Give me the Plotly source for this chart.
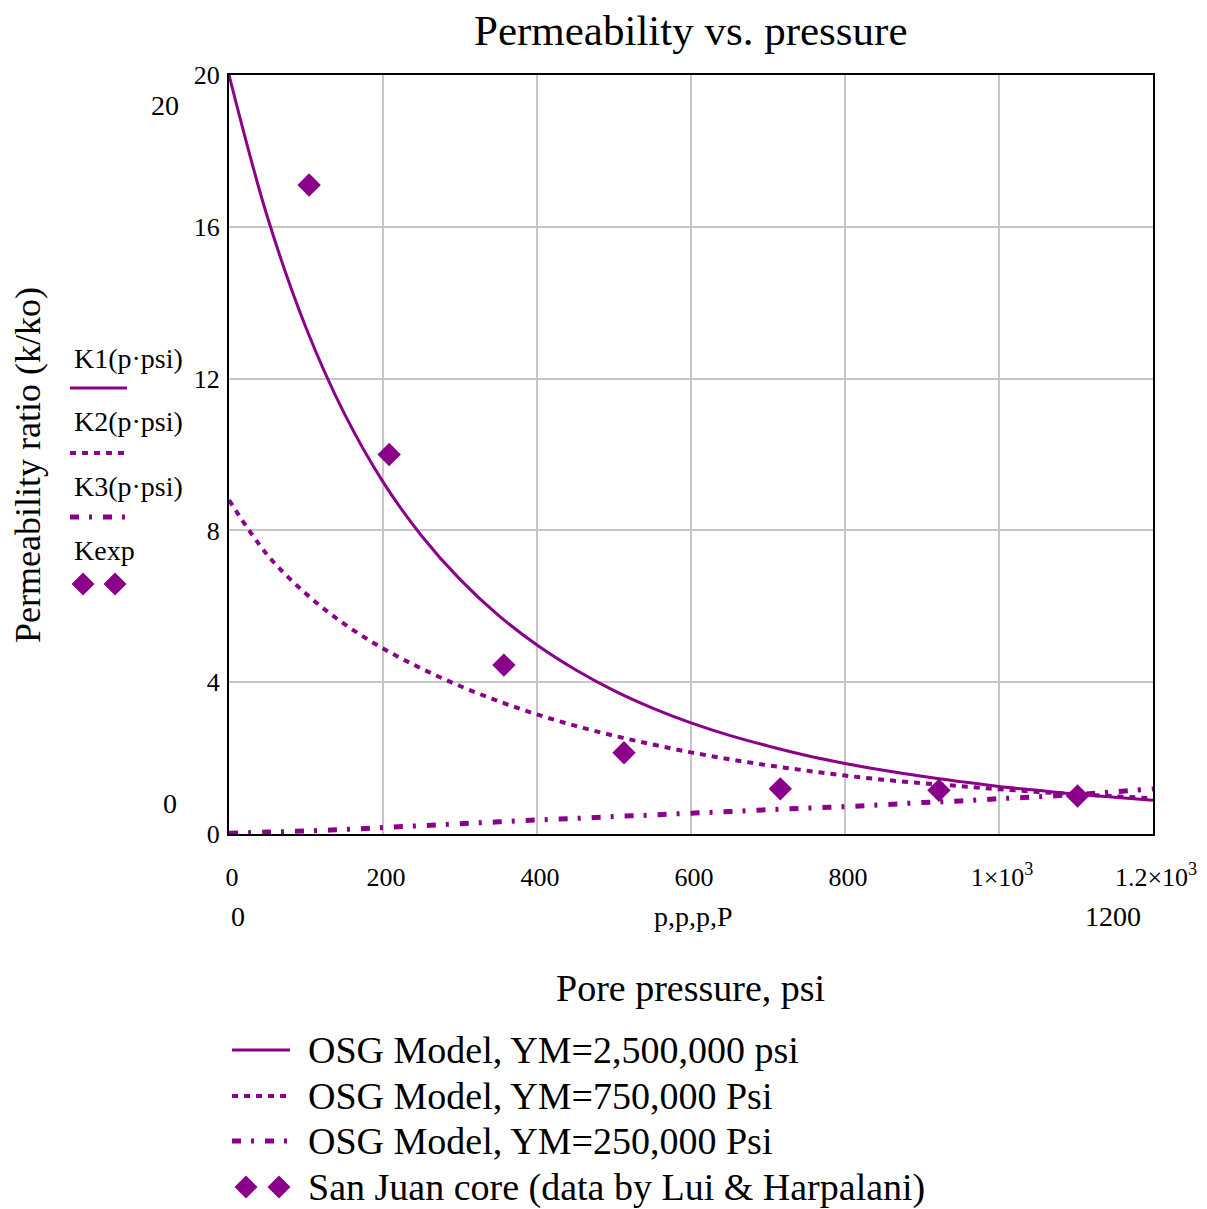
import plotly.graph_objects as go

# ---------------- data ----------------
p_model = [0, 50, 100, 150, 200, 250, 300, 350, 400, 450, 500, 550, 600,
           650, 700, 750, 800, 850, 900, 950, 1000, 1050, 1100, 1150, 1200]
k1 = [20.0, 16.25, 13.34, 11.07, 9.28, 7.86, 6.71, 5.76, 4.98, 4.33, 3.78, 3.32, 2.93,
      2.60, 2.32, 2.07, 1.86, 1.68, 1.52, 1.38, 1.25, 1.15, 1.05, 0.97, 0.89]
k2 = [8.80, 7.35, 6.33, 5.53, 4.89, 4.36, 3.90, 3.50, 3.15, 2.85, 2.59, 2.36, 2.15,
      1.97, 1.81, 1.67, 1.54, 1.43, 1.34, 1.26, 1.18, 1.11, 1.05, 0.995, 0.94]
k3 = [0.02, 0.05, 0.08, 0.12, 0.17, 0.22, 0.27, 0.32, 0.37, 0.41, 0.46, 0.50, 0.55,
      0.59, 0.64, 0.68, 0.72, 0.77, 0.83, 0.87, 0.93, 0.98, 1.04, 1.11, 1.19]
p_exp = [104, 208, 357, 513, 716, 922, 1102]
k_exp = [17.1, 10.0, 4.45, 2.14, 1.19, 1.15, 1.0]

x_tickvals = [0, 200, 400, 600, 800, 1000, 1200]
x_ticktext = ["0", "200", "400", "600", "800", "1×10<sup>3</sup>", "1.2×10<sup>3</sup>"]
y_tickvals = [0, 4, 8, 12, 16, 20]

title_text = "Permeability vs. pressure"
x_title = "Pore pressure, psi"
y_title = "Permeability ratio (k/ko)"
trace_labels = ["K1(p·psi)", "K2(p·psi)", "K3(p·psi)", "Kexp"]
legend_labels = ["OSG Model, YM=2,500,000 psi", "OSG Model, YM=750,000 Psi",
                 "OSG Model, YM=250,000 Psi", "San Juan core (data by Lui & Harpalani)"]

# ---------------- styling ----------------
PURPLE = "#8b008b"
SERIF = "Liberation Serif, Times New Roman, serif"
VIEW_W, VIEW_H = 1207, 1209
OFF = 8                      # default page-body margin
L, R, T, B = 229, 1153, 75, 834   # plot area in window pixels

DASH_DOT = "6px,6px"
DASH_DASHDOT = "9px,10px,3px,11px"


def px(x):
    return (x - L) / (R - L)


def py(y):
    return (B - y) / (B - T)


fig = go.Figure()
fig.add_trace(go.Scatter(x=p_model, y=k1, mode="lines", line_shape="spline",
                         line=dict(color=PURPLE, width=3), showlegend=False))
fig.add_trace(go.Scatter(x=p_model, y=k2, mode="lines", line_shape="spline",
                         line=dict(color=PURPLE, width=4, dash=DASH_DOT), showlegend=False))
fig.add_trace(go.Scatter(x=p_model, y=k3, mode="lines", line_shape="spline",
                         line=dict(color=PURPLE, width=5, dash=DASH_DASHDOT), showlegend=False))
fig.add_trace(go.Scatter(x=p_exp, y=k_exp, mode="markers",
                         marker=dict(symbol="diamond", size=18, color=PURPLE), showlegend=False))

annotations = []


def txt(x, y, s, size, xanchor="center", angle=0):
    annotations.append(dict(x=px(x), y=py(y), xref="paper", yref="paper", text=s,
                            showarrow=False, xanchor=xanchor, yanchor="middle",
                            textangle=angle, font=dict(family=SERIF, size=size, color="black")))


# title & axis titles
txt(691, 31, title_text, 43)
txt(690, 988, x_title, 38)
txt(28, 465, y_title, 36, angle=-90)
# mathcad axis-limit labels
txt(165, 106, "20", 28)
txt(170, 803, "0", 28)
txt(238, 916, "0", 28)
txt(693, 916, "p,p,p,P", 28)
txt(1113, 916, "1200", 28)

# left trace-label stack
shapes = []
stack_y = [358, 421, 486, 550]
for lab, yy in zip(trace_labels, stack_y):
    txt(72, yy, lab, 28, xanchor="left")


def hline(x0, x1, y, width, dash):
    shapes.append(dict(type="line", xref="paper", yref="paper", x0=px(x0), x1=px(x1),
                       y0=py(y), y1=py(y), line=dict(color=PURPLE, width=width, dash=dash)))


def diamond(cx, cy, r=11.5):
    path = "M {} {} L {} {} L {} {} L {} {} Z".format(
        px(cx - r), py(cy), px(cx), py(cy - r), px(cx + r), py(cy), px(cx), py(cy + r))
    shapes.append(dict(type="path", xref="paper", yref="paper", path=path,
                       fillcolor=PURPLE, line=dict(color=PURPLE, width=0)))


hline(70, 127, 388, 3, "solid")
hline(70, 124, 453, 4, DASH_DOT)
hline(70, 126, 517, 5, DASH_DASHDOT)
diamond(83, 584)
diamond(115, 584)

# bottom legend
leg_y = [1050, 1096, 1141, 1187]
for lab, yy in zip(legend_labels, leg_y):
    txt(306, yy, lab, 38, xanchor="left")
hline(232, 290, leg_y[0], 3, "solid")
hline(232, 290, leg_y[1], 4, DASH_DOT)
hline(232, 290, leg_y[2], 5, DASH_DASHDOT)
diamond(246, leg_y[3])
diamond(279, leg_y[3])

axis_common = dict(showline=True, linecolor="black", linewidth=2, mirror=True,
                   showgrid=True, gridcolor="#c6c6c6", gridwidth=2, zeroline=False,
                   automargin=False,
                   ticks="", tickfont=dict(family=SERIF, size=26, color="black"))

fig.update_layout(
    width=VIEW_W - OFF, height=VIEW_H - OFF,
    margin=dict(l=L - OFF, r=VIEW_W - R, t=T - OFF, b=VIEW_H - B, pad=0),
    paper_bgcolor="white", plot_bgcolor="white",
    xaxis=dict(range=[0, 1200], tickvals=x_tickvals, ticktext=x_ticktext,
               ticklabelshift=3, ticklabelstandoff=19, **axis_common),
    yaxis=dict(range=[0, 20], tickvals=y_tickvals, ticklabelstandoff=2, **axis_common),
    annotations=annotations, shapes=shapes, showlegend=False,
)

fig.write_html("out.html")
